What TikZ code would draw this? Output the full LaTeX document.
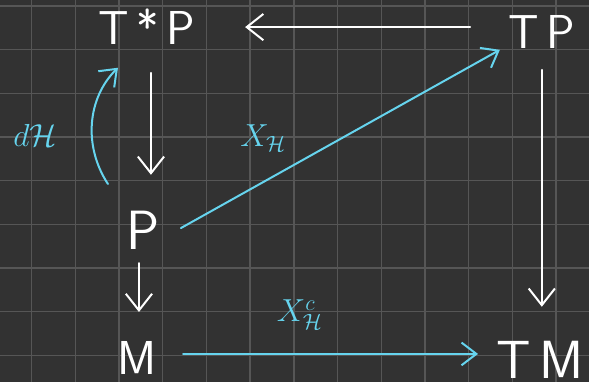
\documentclass[tikz,border=0pt]{standalone}
\usepackage{xcolor}
\usepackage{tikz}
\usetikzlibrary{arrows.meta}
\definecolor{SLBack}{HTML}{323232}
\definecolor{SLGrid}{HTML}{565656}
\definecolor{SLCyan}{HTML}{66D4EE}
\tikzset{
  obj/.style={text=white,inner sep=0pt,font=\sffamily\fontsize{31}{31}\selectfont},
  map/.style={white,line width=1.3pt,line cap=round,-{Straight Barb[length=0.38cm,width=0.6cm]}},
  flow/.style={SLCyan,line width=1.3pt,line cap=round,-{Straight Barb[length=0.34cm,width=0.52cm]}},
  lbl/.style={text=SLCyan,inner sep=0pt,font=\fontsize{22}{22}\selectfont}
}

\begin{document}
\begin{tikzpicture}[x=1cm,y=1cm]
\path[use as bounding box] (0,0) rectangle (13.48,8.74);
\fill[SLBack] (0,0) rectangle (13.48,8.74);
\foreach \gx in {0,...,12} \draw[SLGrid,line width=0.9pt] (0.725+\gx,0) -- (0.725+\gx,8.74);
\foreach \gy in {0,...,8} \draw[SLGrid,line width=0.9pt] (0,0.604+\gy) -- (13.48,0.604+\gy);
\node[obj] (tsp) at (3.36,8.12) {T\,*\,P};
\node[obj] (tp) at (12.40,8.01) {T\,P};
\node[obj,font=\sffamily\fontsize{36}{36}\selectfont] (p) at (3.27,3.48) {P};
\node[obj] (m) at (3.14,0.55) {M};
\node[obj,font=\sffamily\fontsize{35}{35}\selectfont] (tm) at (12.36,0.50) {T\,M};
\draw[map,shorten <=1.64cm,shorten >=2.25cm] (tp.center |- tsp.center) -- (tsp.center);
\draw[map,shorten <=1.05cm,shorten >=1.26cm] ([xshift=0.095cm]tsp.center) -- ([xshift=0.095cm]tsp.center |- p.center);
\draw[map,shorten <=0.76cm,shorten >=1.05cm] ([xshift=-0.09cm]p.center) -- ([xshift=-0.09cm]p.center |- m.center);
\draw[map,shorten <=0.87cm,shorten >=1.22cm] (tp.center) -- (tp.center |- tm.center);
\draw[flow] ([xshift=0.87cm,yshift=0.04cm]p.center) -- ([xshift=-0.96cm,yshift=-0.41cm]tp.center);
\draw[flow,shorten <=1.05cm,shorten >=1.42cm] ([yshift=0.09cm]m.center) -- ([yshift=0.09cm]m.center -| tm.center);
\draw[flow] ([xshift=-0.80cm,yshift=1.05cm]p.center) .. controls +(-0.57,0.87) and +(-0.70,-0.69) .. ([xshift=-0.66cm,yshift=-0.93cm]tsp.center);
\node[lbl] (dh) at (0.80,5.65) {$d\mathcal{H}$};
\node[lbl] (xh) at (6.02,5.58) {$X_{\mathcal{H}}$};
\node[lbl] (xhc) at (6.86,1.53) {$X^{c}_{\mathcal{H}}$};
\end{tikzpicture}
\end{document}
